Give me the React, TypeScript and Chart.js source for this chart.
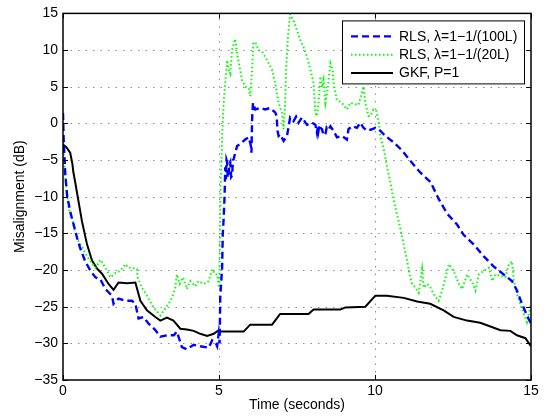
import React, { useEffect, useRef } from "react";
import { Chart, registerables } from "chart.js";

Chart.register(...registerables);

const FONT = "'Liberation Sans', Arial, Helvetica, sans-serif";

const xTicks = [0, 5, 10, 15];
const yTicks = [-35, -30, -25, -20, -15, -10, -5, 0, 5, 10, 15];
const xTitle = "Time (seconds)";
const yTitle = "Misalignment (dB)";
const seriesLabels = ["RLS, λ=1−1/(100L)", "RLS, λ=1−1/(20L)", "GKF, P=1"];

// RLS, lambda = 1-1/(100L)  (blue, dashed)
const blueT = [0, 0.02, 0.07, 0.13, 0.23, 0.34, 0.45, 0.55, 0.71, 0.88, 1.04, 1.2, 1.36, 1.5, 1.57, 1.62, 1.7, 1.78, 2.0, 2.21, 2.32, 2.42, 2.58, 2.74, 2.96, 3.12, 3.33, 3.55, 3.65, 3.81, 3.97, 4.19, 4.4, 4.67, 4.78, 4.88, 4.94, 4.99, 5.02, 5.04, 5.1, 5.12, 5.15, 5.18, 5.2, 5.22, 5.24, 5.26, 5.28, 5.31, 5.33, 5.36, 5.39, 5.42, 5.45, 5.47, 5.52, 5.58, 5.68, 5.84, 5.95, 6.02, 6.04, 6.06, 6.09, 6.16, 6.32, 6.48, 6.64, 6.8, 6.85, 6.87, 6.91, 6.96, 7.07, 7.18, 7.28, 7.39, 7.47, 7.55, 7.66, 7.82, 7.98, 8.09, 8.14, 8.17, 8.19, 8.22, 8.25, 8.3, 8.35, 8.41, 8.45, 8.5, 8.57, 8.67, 8.78, 8.94, 9.1, 9.15, 9.26, 9.42, 9.53, 9.63, 9.74, 9.9, 10.01, 10.17, 10.33, 10.6, 10.87, 11.13, 11.45, 11.78, 12.04, 12.31, 12.63, 12.84, 13.16, 13.48, 13.8, 14.12, 14.39, 14.55, 14.71, 14.87, 15.0];
const blueV = [1.4, -2, -6.7, -9.8, -12.0, -13.8, -15.6, -17.0, -18.8, -20.1, -21.0, -21.3, -22.6, -23.2, -23.5, -24.6, -24.2, -23.9, -24.2, -24.2, -24.6, -26.6, -26.4, -27.3, -28.2, -29.1, -28.9, -28.9, -28.4, -30.5, -30.8, -30.2, -30.4, -30.6, -29.6, -29.8, -30.4, -28.7, -30.0, -23.7, -19.7, -15.2, -12.9, -9.8, -6.0, -7.6, -5.0, -5.3, -7.4, -7.1, -5.6, -5.3, -7.3, -7.1, -5.0, -4.9, -4.0, -3.1, -2.8, -2.2, -1.9, -3.0, -4.0, 0.5, 2.8, 1.9, 2.1, 1.9, 2.1, 1.5, 1.0, -0.9, -1.7, -1.5, -2.4, -1.7, 0.8, 0.3, 0.9, 0.1, 0.8, -0.2, 0.1, -0.2, -1.3, -0.3, -1.0, -0.2, -0.6, -0.8, -1.6, -1.5, -0.6, -0.9, -0.4, -1.0, -1.9, -1.7, -2.2, -0.8, -0.4, -0.6, 0.1, -0.6, -1.0, -0.8, -0.6, -1.0, -1.7, -2.6, -3.7, -5.1, -6.7, -8.0, -10.3, -12.3, -13.8, -15.2, -16.5, -18.1, -19.5, -20.6, -21.5, -22.8, -24.6, -26.2, -27.3];

// RLS, lambda = 1-1/(20L)  (green, dotted)
const greenT = [0, 0.02, 0.07, 0.18, 0.29, 0.39, 0.5, 0.61, 0.71, 0.88, 1.04, 1.2, 1.36, 1.52, 1.68, 1.84, 2.0, 2.1, 2.21, 2.37, 2.39, 2.53, 2.69, 2.9, 3.12, 3.23, 3.39, 3.5, 3.6, 3.65, 3.74, 3.85, 3.97, 4.08, 4.24, 4.35, 4.51, 4.67, 4.78, 4.88, 4.94, 4.99, 5.01, 5.03, 5.05, 5.08, 5.1, 5.15, 5.2, 5.26, 5.31, 5.36, 5.42, 5.47, 5.52, 5.58, 5.68, 5.74, 5.84, 5.95, 6.0, 6.06, 6.1, 6.16, 6.27, 6.38, 6.48, 6.59, 6.7, 6.8, 6.91, 7.02, 7.07, 7.12, 7.15, 7.21, 7.28, 7.39, 7.5, 7.61, 7.71, 7.82, 7.93, 8.03, 8.09, 8.14, 8.19, 8.25, 8.3, 8.35, 8.41, 8.48, 8.57, 8.64, 8.67, 8.78, 8.94, 9.1, 9.21, 9.47, 9.63, 9.69, 9.79, 9.85, 9.95, 10.04, 10.12, 10.17, 10.28, 10.38, 10.49, 10.6, 10.71, 10.81, 10.92, 11.03, 11.13, 11.19, 11.29, 11.4, 11.51, 11.56, 11.67, 11.78, 11.88, 12.04, 12.15, 12.26, 12.37, 12.52, 12.69, 12.79, 12.95, 13.12, 13.22, 13.33, 13.49, 13.65, 13.76, 13.86, 14.02, 14.18, 14.29, 14.39, 14.45, 14.55, 14.66, 14.77, 14.87, 14.98, 15.0];
const greenV = [-2, -4, -7.1, -11.6, -13.0, -14.8, -16.1, -16.8, -17.7, -18.8, -19.7, -18.6, -19.7, -21.0, -20.4, -20.1, -19.2, -19.7, -19.7, -19.9, -21.0, -22.4, -23.5, -25.1, -26.2, -25.5, -24.6, -23.7, -22.4, -20.6, -21.9, -21.0, -22.6, -21.5, -22.2, -21.5, -21.9, -21.5, -19.9, -20.6, -20.6, -22.2, -22.4, -15.2, -8.5, -5.1, -1.7, 2.8, 5.5, 8.6, 7.3, 6.8, 10.0, 10.9, 11.5, 9.5, 7.3, 5.9, 5.0, 4.8, 3.7, 7.3, 10.9, 11.1, 10.0, 9.8, 9.1, 8.2, 7.3, 5.5, 2.8, 1.4, -0.8, 2.8, 7.3, 11.8, 14.9, 14.0, 12.7, 11.3, 10.4, 9.1, 7.3, 5.5, 1.4, 1.0, 2.8, 6.4, 4.9, 5.9, 2.8, 4.6, 8.2, 7.3, 5.5, 3.2, 2.8, 1.9, 2.8, 2.5, 5.0, 2.8, 1.0, 1.0, 1.9, 1.7, 0.1, -1.7, -3.5, -5.8, -8.0, -10.5, -12.5, -14.3, -16.5, -18.8, -21.0, -21.9, -22.4, -23.1, -19.9, -22.4, -21.9, -22.4, -23.3, -24.2, -22.8, -21.0, -19.2, -20.1, -21.9, -22.6, -20.6, -21.7, -22.8, -20.6, -20.1, -19.7, -21.5, -20.6, -20.8, -21.0, -19.2, -18.8, -21.5, -23.3, -24.6, -26.0, -27.1, -25.1, -24.6];

// GKF, P=1  (black, solid)
const blackT = [0, 0.1, 0.23, 0.3, 0.33, 0.39, 0.5, 0.61, 0.77, 0.93, 1.09, 1.25, 1.46, 1.62, 1.78, 2.05, 2.32, 2.39, 2.48, 2.69, 2.96, 3.12, 3.33, 3.54, 3.76, 3.97, 4.19, 4.4, 4.62, 4.83, 4.99, 5.05, 5.79, 6.0, 6.7, 6.96, 7.87, 8.03, 8.89, 9.05, 9.69, 10.01, 10.38, 10.92, 11.35, 11.77, 12.2, 12.52, 12.95, 13.37, 13.7, 14.02, 14.34, 14.55, 14.82, 15.0];
const blackV = [-2.9, -3.2, -4.0, -5.5, -6.6, -8.0, -10.7, -13.4, -16.5, -18.7, -19.8, -20.5, -21.9, -22.7, -21.7, -21.8, -21.7, -22.8, -24.2, -25.5, -26.4, -26.9, -26.5, -26.9, -28.0, -28.1, -28.3, -28.7, -29.0, -28.7, -28.2, -28.4, -28.4, -27.45, -27.45, -26.0, -26.0, -25.4, -25.4, -25.1, -25.0, -23.5, -23.5, -23.8, -24.3, -24.6, -25.5, -26.4, -26.9, -27.2, -27.7, -28.2, -28.3, -28.9, -29.3, -30.4];

const zip = (t: number[], v: number[]) => t.map((x, i) => ({ x, y: v[i] }));
const fmt = (v: number) => (v < 0 ? "\u2212" + Math.abs(v) : String(v));

const framePlugin = {
  id: "matlabFrame",
  beforeDatasetsDraw(chart: any) {
    const { ctx, chartArea: a, scales } = chart;
    ctx.save();
    ctx.strokeStyle = "rgba(0,0,0,0.45)";
    ctx.lineWidth = 1;
    ctx.setLineDash([1.5, 6]);
    ctx.beginPath();
    for (const t of xTicks) {
      const px = Math.round(scales.x.getPixelForValue(t)) + 0.5;
      if (px <= a.left + 1 || px >= a.right - 1) continue;
      ctx.moveTo(px, a.bottom);
      ctx.lineTo(px, a.top);
    }
    for (const t of yTicks) {
      const py = Math.round(scales.y.getPixelForValue(t)) + 0.5;
      if (py <= a.top + 1 || py >= a.bottom - 1) continue;
      ctx.moveTo(a.left, py);
      ctx.lineTo(a.right, py);
    }
    ctx.stroke();
    ctx.restore();
  },
  afterDatasetsDraw(chart: any) {
    const { ctx, chartArea: a, scales } = chart;
    ctx.save();
    ctx.strokeStyle = "#000";
    ctx.lineWidth = 1;
    ctx.beginPath();
    for (const t of xTicks) {
      const px = Math.round(scales.x.getPixelForValue(t)) + 0.5;
      ctx.moveTo(px, a.bottom);
      ctx.lineTo(px, a.bottom - 5);
      ctx.moveTo(px, a.top);
      ctx.lineTo(px, a.top + 5);
    }
    for (const t of yTicks) {
      const py = Math.round(scales.y.getPixelForValue(t)) + 0.5;
      ctx.moveTo(a.left, py);
      ctx.lineTo(a.left + 5, py);
      ctx.moveTo(a.right, py);
      ctx.lineTo(a.right - 5, py);
    }
    ctx.stroke();
    ctx.lineWidth = 1.5;
    ctx.strokeRect(a.left, a.top, a.right - a.left, a.bottom - a.top);
    ctx.restore();
  },
  afterDraw(chart: any) {
    const { ctx, chartArea: a } = chart;
    const right = a.right - 7;
    const top = a.top + 7;
    const w = 182;
    const h = 63;
    const left = right - w;
    ctx.save();
    ctx.fillStyle = "#fff";
    ctx.fillRect(left, top, w, h);
    ctx.strokeStyle = "#000";
    ctx.lineWidth = 1;
    ctx.strokeRect(left + 0.5, top + 0.5, w, h);
    ctx.font = "14px " + FONT;
    ctx.textBaseline = "middle";
    ctx.textAlign = "left";
    chart.data.datasets.forEach((ds: any, i: number) => {
      const y = top + 16 + i * 18.3;
      ctx.beginPath();
      ctx.strokeStyle = ds.borderColor;
      ctx.lineWidth = ds.borderWidth;
      ctx.setLineDash(ds.borderDash || []);
      ctx.moveTo(left + 9, y);
      ctx.lineTo(left + 51, y);
      ctx.stroke();
      ctx.setLineDash([]);
      ctx.fillStyle = "#000";
      ctx.fillText(ds.label, left + 57, y + 0.5);
    });
    ctx.restore();
  },
};

export default function App() {
  const ref = useRef<HTMLCanvasElement | null>(null);
  useEffect(() => {
    if (!ref.current) return;
    const chart = new Chart(ref.current, {
      type: "line",
      data: {
        datasets: [
          {
            label: seriesLabels[0],
            data: zip(blueT, blueV),
            borderColor: "#0000ff",
            borderWidth: 2.4,
            borderDash: [7, 4],
            pointRadius: 0,
            tension: 0,
          },
          {
            label: seriesLabels[1],
            data: zip(greenT, greenV),
            borderColor: "#00ff00",
            borderWidth: 2,
            borderDash: [1.5, 2.5],
            pointRadius: 0,
            tension: 0,
          },
          {
            label: seriesLabels[2],
            data: zip(blackT, blackV),
            borderColor: "#000000",
            borderWidth: 2,
            pointRadius: 0,
            tension: 0,
          },
        ],
      },
      options: {
        animation: false,
        responsive: false,
        devicePixelRatio: 1,
        layout: { padding: { top: 9, right: 15, left: 0, bottom: 0 } },
        plugins: { legend: { display: false }, tooltip: { enabled: false } },
        scales: {
          x: {
            type: "linear",
            min: 0,
            max: 15,
            afterFit: (s: any) => {
              s.height = 38;
            },
            afterBuildTicks: (s: any) => {
              s.ticks = xTicks.map((v) => ({ value: v }));
            },
            border: { display: false },
            grid: { display: false, drawTicks: false },
            ticks: {
              padding: 3,
              color: "#000",
              font: { family: FONT, size: 14 },
              maxRotation: 0,
              callback: (v: any) => fmt(Number(v)),
            },
            title: {
              display: true,
              text: xTitle,
              color: "#000",
              font: { family: FONT, size: 14 },
              padding: { top: 0, bottom: 4.6 },
            },
          },
          y: {
            type: "linear",
            min: -35,
            max: 15,
            afterFit: (s: any) => {
              s.width = 63;
            },
            afterBuildTicks: (s: any) => {
              s.ticks = yTicks.map((v) => ({ value: v }));
            },
            border: { display: false },
            grid: { display: false, drawTicks: false },
            ticks: {
              padding: 5,
              color: "#000",
              font: { family: FONT, size: 14 },
              callback: (v: any) => fmt(Number(v)),
            },
            title: {
              display: true,
              text: yTitle,
              color: "#000",
              font: { family: FONT, size: 14 },
              padding: { top: 11.6, bottom: 0 },
            },
          },
        },
      } as any,
      plugins: [framePlugin],
    });
    return () => chart.destroy();
  }, []);
  return (
    <div style={{ position: "fixed", left: 0, top: 0, width: 546, height: 418, background: "#fff" }}>
      <canvas ref={ref} width={546} height={418} style={{ display: "block", width: 546, height: 418 }} />
    </div>
  );
}
